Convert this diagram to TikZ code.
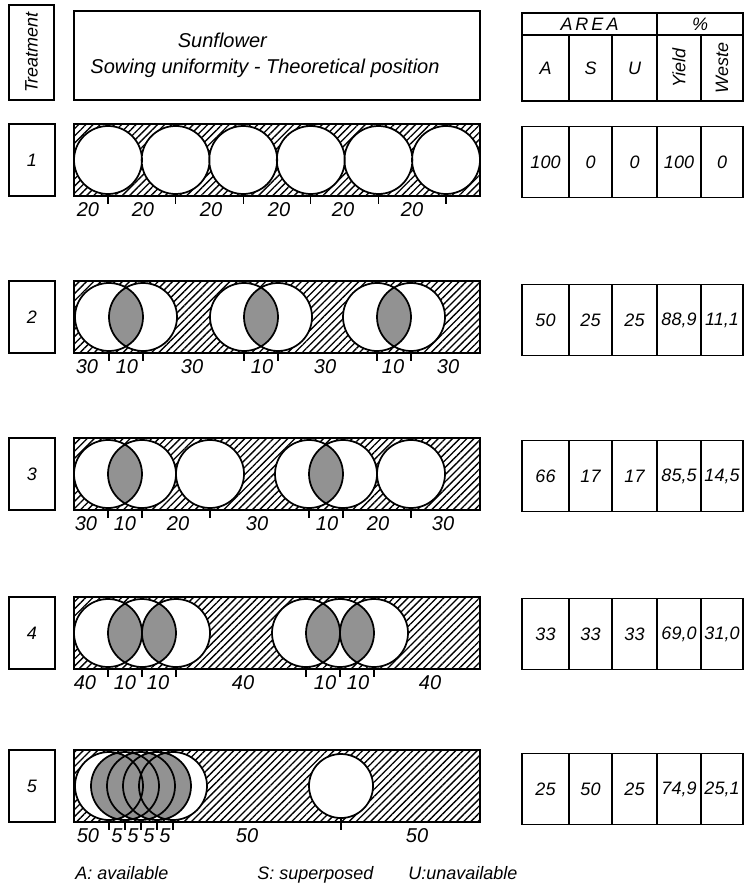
\documentclass[tikz,border=0pt]{standalone}
\usepackage{fontspec}
\setmainfont{Liberation Sans}
\usepackage{graphicx}
\usepackage{tikz}
\usetikzlibrary{patterns.meta}

\begin{document}
\begin{tikzpicture}[
    x=0.75pt, y=-0.75pt,
    every node/.style={font=\fontsize{13.5}{16}\selectfont\itshape, inner sep=0pt},
    boxframe/.style={
        rectangle,
        draw,
        line width=1.3pt,
        align=center
    },
    treat/.style={boxframe, minimum width=34.5pt, minimum height=54pt},
    cell/.style={boxframe, line width=1pt, minimum height=53.25pt},
    headcell/.style={boxframe, line width=1pt, minimum height=49.5pt},
    colA/.style={minimum width=35.25pt},
    colS/.style={minimum width=32.25pt},
    colU/.style={minimum width=33.75pt},
    colY/.style={minimum width=33pt},
    colW/.style={minimum width=31.5pt},
    strip/.style={
        draw,
        line width=1.3pt,
        pattern={Lines[angle=45, distance=3.8pt, line width=1pt]}
    },
    plant/.style={draw, line width=1.3pt},
    lens/.style={
        preaction={fill=gray!50},
        pattern={Dots[distance=1.5pt, radius=0.45pt]}
    },
    dimtick/.style={line width=0.8pt},
    dim/.style={font=\fontsize{15}{18}\selectfont\itshape}
]
\useasboundingbox (0,0) rectangle (744,884);

% Header
\node[boxframe, rotate=90, minimum width=71.25pt, minimum height=33.75pt] (thead) at (31.5,52.5) {Treatment};
\node[boxframe, minimum width=304.5pt, minimum height=66.75pt,
      font=\fontsize{15}{18}\selectfont\itshape] (title) at (277,55.5)
    {Sunflower\hspace*{82pt}\\[1.5pt]Sowing uniformity - Theoretical position\hspace*{18pt}};

% Table header
\node[boxframe, line width=1pt, minimum width=101.25pt, minimum height=16.5pt] (area) at (589.5,24) {A\,R\,E\,A};
\node[boxframe, line width=1pt, minimum width=64.5pt, minimum height=16.5pt] (pct) at (700,24) {\%};
\node[headcell, colA] (hA) at (545.5,68) {A};
\node[headcell, colS] (hS) at (590.5,68) {S};
\node[headcell, colU] (hU) at (634.5,68) {U};
\node[headcell, colY] (hY) at (679,68) {\rotatebox{90}{Yield}};
\node[headcell, colW] (hW) at (722,68) {\rotatebox{90}{Weste}};

% Treatment 1
\node[treat] (t1) at (32,160) {1};
\draw[strip] (74,124) rectangle (480,196);
\fill[white] (108,160) circle[radius=34] (175.6,160) circle[radius=34] (243.2,160) circle[radius=34]
    (310.8,160) circle[radius=34] (378.4,160) circle[radius=34] (446,160) circle[radius=34];
\draw[plant] (108,160) circle[radius=34] (175.6,160) circle[radius=34] (243.2,160) circle[radius=34]
    (310.8,160) circle[radius=34] (378.4,160) circle[radius=34] (446,160) circle[radius=34];
\draw[dimtick] (108,196) -- ++(0,8) (175.6,196) -- ++(0,8) (243.2,196) -- ++(0,8)
    (310.8,196) -- ++(0,8) (378.4,196) -- ++(0,8) (446,196) -- ++(0,8);
\node[dim] (d1a) at (88,210) {20};
\node[dim] (d1b) at (143,210) {20};
\node[dim] (d1c) at (211,210) {20};
\node[dim] (d1d) at (279,210) {20};
\node[dim] (d1e) at (343,210) {20};
\node[dim] (d1f) at (412,210) {20};

% Treatment 2
\node[treat] (t2) at (32,317) {2};
\draw[strip] (74,281) rectangle (480,353);
\fill[white] (109,317) circle[radius=34] (143,317) circle[radius=34] (244,317) circle[radius=34]
    (278,317) circle[radius=34] (377,317) circle[radius=34] (411,317) circle[radius=34];
\begin{scope}
    \clip (109,317) circle[radius=34];
    \fill[lens] (143,317) circle[radius=34];
\end{scope}
\begin{scope}
    \clip (244,317) circle[radius=34];
    \fill[lens] (278,317) circle[radius=34];
\end{scope}
\begin{scope}
    \clip (377,317) circle[radius=34];
    \fill[lens] (411,317) circle[radius=34];
\end{scope}
\draw[plant] (109,317) circle[radius=34] (143,317) circle[radius=34] (244,317) circle[radius=34]
    (278,317) circle[radius=34] (377,317) circle[radius=34] (411,317) circle[radius=34];
\draw[dimtick] (109,353) -- ++(0,8) (143,353) -- ++(0,8) (244,353) -- ++(0,8)
    (278,353) -- ++(0,8) (377,353) -- ++(0,8) (411,353) -- ++(0,8);
\node[dim] (d2a) at (87,367) {30};
\node[dim] (d2b) at (127,367) {10};
\node[dim] (d2c) at (192,367) {30};
\node[dim] (d2d) at (262,367) {10};
\node[dim] (d2e) at (325,367) {30};
\node[dim] (d2f) at (393,367) {10};
\node[dim] (d2g) at (448,367) {30};

% Treatment 3
\node[treat] (t3) at (32,474) {3};
\draw[strip] (74,438) rectangle (480,510);
\fill[white] (108,474) circle[radius=34] (142,474) circle[radius=34] (210,474) circle[radius=34]
    (309,474) circle[radius=34] (343,474) circle[radius=34] (411,474) circle[radius=34];
\begin{scope}
    \clip (108,474) circle[radius=34];
    \fill[lens] (142,474) circle[radius=34];
\end{scope}
\begin{scope}
    \clip (309,474) circle[radius=34];
    \fill[lens] (343,474) circle[radius=34];
\end{scope}
\draw[plant] (108,474) circle[radius=34] (142,474) circle[radius=34] (210,474) circle[radius=34]
    (309,474) circle[radius=34] (343,474) circle[radius=34] (411,474) circle[radius=34];
\draw[dimtick] (108,510) -- ++(0,8) (142,510) -- ++(0,8) (210,510) -- ++(0,8)
    (309,510) -- ++(0,8) (343,510) -- ++(0,8) (411,510) -- ++(0,8);
\node[dim] (d3a) at (86,524) {30};
\node[dim] (d3b) at (125,524) {10};
\node[dim] (d3c) at (178,524) {20};
\node[dim] (d3d) at (257,524) {30};
\node[dim] (d3e) at (327,524) {10};
\node[dim] (d3f) at (378,524) {20};
\node[dim] (d3g) at (443,524) {30};

% Treatment 4
\node[treat] (t4) at (32,633) {4};
\draw[strip] (74,597) rectangle (480,669);
\fill[white] (108,633) circle[radius=34] (142,633) circle[radius=34] (176,633) circle[radius=34]
    (306,633) circle[radius=34] (340,633) circle[radius=34] (374,633) circle[radius=34];
\begin{scope}
    \clip (108,633) circle[radius=34];
    \fill[lens] (142,633) circle[radius=34];
\end{scope}
\begin{scope}
    \clip (142,633) circle[radius=34];
    \fill[lens] (176,633) circle[radius=34];
\end{scope}
\begin{scope}
    \clip (306,633) circle[radius=34];
    \fill[lens] (340,633) circle[radius=34];
\end{scope}
\begin{scope}
    \clip (340,633) circle[radius=34];
    \fill[lens] (374,633) circle[radius=34];
\end{scope}
\draw[plant] (108,633) circle[radius=34] (142,633) circle[radius=34] (176,633) circle[radius=34]
    (306,633) circle[radius=34] (340,633) circle[radius=34] (374,633) circle[radius=34];
\draw[dimtick] (108,669) -- ++(0,8) (142,669) -- ++(0,8) (176,669) -- ++(0,8)
    (306,669) -- ++(0,8) (340,669) -- ++(0,8) (374,669) -- ++(0,8);
\node[dim] (d4a) at (85,683) {40};
\node[dim] (d4b) at (125,683) {10};
\node[dim] (d4c) at (158,683) {10};
\node[dim] (d4d) at (243,683) {40};
\node[dim] (d4e) at (325,683) {10};
\node[dim] (d4f) at (358,683) {10};
\node[dim] (d4g) at (430,683) {40};

% Treatment 5
\node[treat] (t5) at (32,786) {5};
\draw[strip] (74,750) rectangle (480,822);
\fill[white] (109,786) circle[radius=34] (125,786) circle[radius=34] (141,786) circle[radius=34]
    (157,786) circle[radius=34] (173,786) circle[radius=34] (341,786) circle[radius=32];
\begin{scope}
    \clip (109,786) circle[radius=34];
    \fill[lens] (125,786) circle[radius=34];
\end{scope}
\begin{scope}
    \clip (125,786) circle[radius=34];
    \fill[lens] (141,786) circle[radius=34];
\end{scope}
\begin{scope}
    \clip (141,786) circle[radius=34];
    \fill[lens] (157,786) circle[radius=34];
\end{scope}
\begin{scope}
    \clip (157,786) circle[radius=34];
    \fill[lens] (173,786) circle[radius=34];
\end{scope}
\draw[plant] (109,786) circle[radius=34] (125,786) circle[radius=34] (141,786) circle[radius=34]
    (157,786) circle[radius=34] (173,786) circle[radius=34] (341,786) circle[radius=32];
\draw[dimtick] (109,822) -- ++(0,8) (125,822) -- ++(0,8) (141,822) -- ++(0,8)
    (157,822) -- ++(0,8) (173,822) -- ++(0,8) (341,818) -- ++(0,12);
\node[dim] (d5a) at (88,836) {50};
\node[dim] (d5b) at (117,836) {5};
\node[dim] (d5c) at (133,836) {5};
\node[dim] (d5d) at (149,836) {5};
\node[dim] (d5e) at (165,836) {5};
\node[dim] (d5f) at (247,836) {50};
\node[dim] (d5g) at (417,836) {50};

% Table rows
\node[cell, colA] (a1) at (545.5,162) {100};
\node[cell, colS] (s1) at (590.5,162) {0};
\node[cell, colU] (u1) at (634.5,162) {0};
\node[cell, colY] (y1) at (679,162) {100};
\node[cell, colW] (w1) at (722,162) {0};

\node[cell, colA] (a2) at (545.5,320) {50};
\node[cell, colS] (s2) at (590.5,320) {25};
\node[cell, colU] (u2) at (634.5,320) {25};
\node[cell, colY] (y2) at (679,320) {88,9};
\node[cell, colW] (w2) at (722,320) {11,1};

\node[cell, colA] (a3) at (545.5,476) {66};
\node[cell, colS] (s3) at (590.5,476) {17};
\node[cell, colU] (u3) at (634.5,476) {17};
\node[cell, colY] (y3) at (679,476) {85,5};
\node[cell, colW] (w3) at (722,476) {14,5};

\node[cell, colA] (a4) at (545.5,634) {33};
\node[cell, colS] (s4) at (590.5,634) {33};
\node[cell, colU] (u4) at (634.5,634) {33};
\node[cell, colY] (y4) at (679,634) {69,0};
\node[cell, colW] (w4) at (722,634) {31,0};

\node[cell, colA] (a5) at (545.5,789) {25};
\node[cell, colS] (s5) at (590.5,789) {50};
\node[cell, colU] (u5) at (634.5,789) {25};
\node[cell, colY] (y5) at (679,789) {74,9};
\node[cell, colW] (w5) at (722,789) {25,1};

% Legend
\node[anchor=base west] (legA) at (75,879) {A: available};
\node[anchor=base west] (legS) at (257,879) {S: superposed};
\node[anchor=base west] (legU) at (408,879) {U:unavailable};

\end{tikzpicture}
\end{document}
